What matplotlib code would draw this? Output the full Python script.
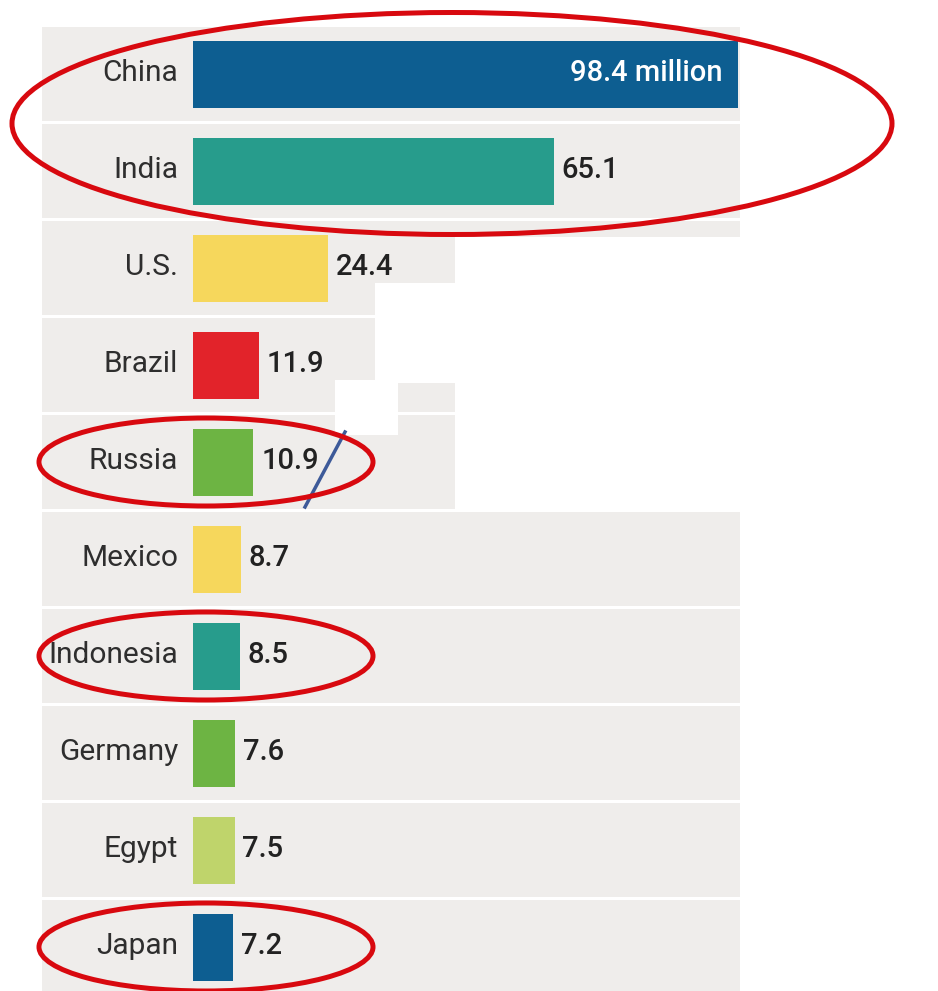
import matplotlib.pyplot as plt
from matplotlib.patches import Ellipse, Rectangle
import numpy as np

plt.rcParams['font.family'] = ['Roboto', 'DejaVu Sans']

# %%
countries = ['China', 'India', 'U.S.', 'Brazil', 'Russia',
             'Mexico', 'Indonesia', 'Germany', 'Egypt', 'Japan']
values = [98.4, 65.1, 24.4, 11.9, 10.9, 8.7, 8.5, 7.6, 7.5, 7.2]
value_labels = ['98.4 million', '65.1', '24.4', '11.9', '10.9',
                '8.7', '8.5', '7.6', '7.5', '7.2']
colors = ['#0d5e91', '#279c8c', '#f6d75c', '#e2232a', '#6db443',
          '#f6d75c', '#279c8c', '#6db443', '#bfd46b', '#0d5e91']
highlight = [[0, 1], [4], [6], [9]]

# %%
W, H = 938, 991
fig = plt.figure(figsize=(W / 100, H / 100), dpi=100)
fig.patch.set_facecolor('white')

# axes spans the gray bands: x 42..740 px, y 24.5..991 px
ax = fig.add_axes([42 / W, 0, (740 - 42) / W, (991 - 24.5) / H])
x0 = -(193 - 42) / 5.54
x1 = (740 - 193) / 5.54
ax.set_xlim(x0, x1)
ax.set_ylim(9 + (991 - 946) / 97, -0.5)
ax.axis('off')

y = np.arange(len(countries))
ax.barh(y + 0.01, x1 - x0, left=x0, height=0.965, color='#efedeb', zorder=0)
ax.barh(y + 0.02, values, height=0.69, color=colors, zorder=2)

for i, (c, v, lab) in enumerate(zip(countries, values, value_labels)):
    ax.text(-2.7, i, c, ha='right', va='center', fontsize=21.5,
            color='#2e2e2e', zorder=3)
    if i == 0:
        ax.text(v - 2.8, i, lab, ha='right', va='center', fontsize=21,
                color='white', fontweight='medium', zorder=3)
    else:
        ax.text(v + 1.4, i, lab, ha='left', va='center', fontsize=21,
                color='#222222', fontweight='medium', zorder=3)

# overlay in pixel coordinates for the white cover patches and marks
ov = fig.add_axes([0, 0, 1, 1])
ov.set_xlim(0, W)
ov.set_ylim(H, 0)
ov.axis('off')
ov.patch.set_alpha(0)
for (rx, ry, rw, rh) in [(455, 237, 475, 275), (375, 283, 80, 100),
                         (335, 380, 63, 55)]:
    ov.add_patch(Rectangle((rx, ry), rw, rh, facecolor='white',
                           edgecolor='none', zorder=4))
ov.plot([345, 305], [432, 507], color='#3d5a99', lw=2.5, zorder=5)

# red ellipses around highlighted rows
def row_px(r):
    return 73 + 97 * r

for rows in highlight:
    cy = (row_px(rows[0]) + row_px(rows[-1])) / 2
    if len(rows) > 1:
        ov.add_patch(Ellipse((452, cy + 2), 880, 222, fill=False,
                             edgecolor='#d8090f', lw=3.6, zorder=6))
    else:
        ov.add_patch(Ellipse((206, cy + 1), 334, 88, fill=False,
                             edgecolor='#d8090f', lw=3.6, zorder=6))

fig.savefig('out.png', dpi=100)
